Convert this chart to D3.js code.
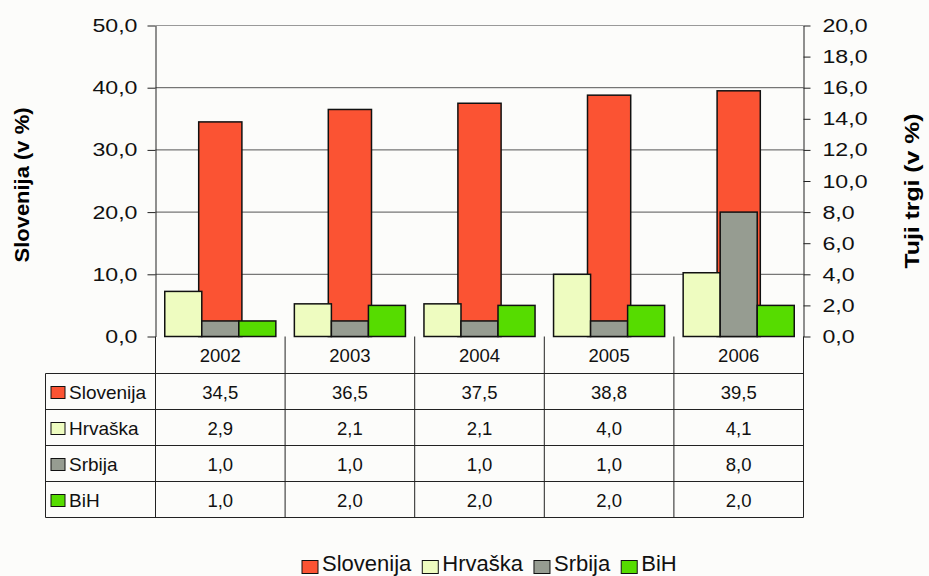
<!DOCTYPE html>
<html>
<head>
<meta charset="utf-8">
<script src="https://cdn.jsdelivr.net/npm/d3@7"></script>
<style>
  body { margin: 0; background: #fcfcfa; }
  svg { display: block; font-family: "Liberation Sans", Arial, sans-serif; }
</style>
</head>
<body>
<svg width="929" height="576"></svg>
<script>
// values
var years = ["2002", "2003", "2004", "2005", "2006"];
var slovenija = [34.5, 36.5, 37.5, 38.8, 39.5];
var hrvaska = [2.9, 2.1, 2.1, 4.0, 4.1];
var srbija = [1.0, 1.0, 1.0, 1.0, 8.0];
var bih = [1.0, 2.0, 2.0, 2.0, 2.0];
var seriesNames = ["Slovenija", "Hrvaška", "Srbija", "BiH"];
var leftTicks = [0, 10, 20, 30, 40, 50];
var rightTicks = [0, 2, 4, 6, 8, 10, 12, 14, 16, 18, 20];

var colors = {Slovenija: "#fb5333", "Hrvaška": "#eefcc0", Srbija: "#969c91", BiH: "#56dc00"};
var values = {Slovenija: slovenija, "Hrvaška": hrvaska, Srbija: srbija, BiH: bih};
var secondary = ["Hrvaška", "Srbija", "BiH"];

var svg = d3.select("svg"),
    plotL = 155.5, plotR = 803.5, plotT = 25.5, plotB = 336.5,
    tableBottom = 517.5, tableLeft = 45.5;

var fmt = function(v) { return d3.format(".1f")(v).replace(".", ","); };

var x0 = d3.scaleBand().domain(years).range([plotL, plotR]);
var xs = d3.scaleBand().domain(secondary).range([0, x0.bandwidth()]).paddingOuter(0.25);
var xSlo = d3.scaleBand().domain(["Slovenija"]).range([0, x0.bandwidth()]).paddingOuter(1);

var yL = d3.scaleLinear().domain([0, 50]).range([plotB, plotT]);
var yR = d3.scaleLinear().domain([0, 20]).range([plotB, plotT]);

// gridlines
svg.append("g").selectAll("line")
  .data(leftTicks.slice(1))
  .enter().append("line")
    .attr("x1", plotL).attr("x2", plotR)
    .attr("y1", function(d) { return yL(d); })
    .attr("y2", function(d) { return yL(d); })
    .attr("stroke", function(d) { return d === 50 ? "#999" : "#555"; })
    .attr("stroke-width", 1);

// Slovenija bars (left axis) go behind
svg.append("g").selectAll("rect")
  .data(years)
  .enter().append("rect")
    .attr("x", function(d) { return x0(d) + xSlo("Slovenija"); })
    .attr("width", xSlo.bandwidth())
    .attr("y", function(d, i) { return yL(slovenija[i]); })
    .attr("height", function(d, i) { return plotB - yL(slovenija[i]); })
    .attr("fill", colors.Slovenija)
    .attr("stroke", "#111")
    .attr("stroke-width", 1.5);

// other markets (right axis)
var grp = svg.append("g").selectAll("g")
  .data(years)
  .enter().append("g")
    .attr("transform", function(d) { return "translate(" + x0(d) + ",0)"; });

grp.selectAll("rect")
  .data(function(d, i) { return secondary.map(function(s) { return {s: s, v: values[s][i]}; }); })
  .enter().append("rect")
    .attr("x", function(d) { return xs(d.s); })
    .attr("width", xs.bandwidth())
    .attr("y", function(d) { return yR(d.v); })
    .attr("height", function(d) { return plotB - yR(d.v); })
    .attr("fill", function(d) { return colors[d.s]; })
    .attr("stroke", "#111")
    .attr("stroke-width", 1.5);

// axes
var sx = 1.22;
var axL = svg.append("g")
    .attr("transform", "translate(" + plotL + ",0)")
    .call(d3.axisLeft(yL).tickValues(leftTicks).tickFormat(fmt).tickSize(8).tickSizeOuter(0).tickPadding(10));
var axR = svg.append("g")
    .attr("transform", "translate(" + plotR + ",0)")
    .call(d3.axisRight(yR).tickValues(rightTicks).tickFormat(fmt).tickSize(7).tickSizeOuter(0).tickPadding(12));

[axL, axR].forEach(function(ax) {
  ax.select(".domain").attr("stroke", "#222");
  ax.selectAll(".tick line").attr("stroke", "#222");
  ax.selectAll(".tick text")
      .attr("font-size", 19)
      .attr("font-family", "Liberation Sans, Arial, sans-serif")
      .attr("fill", "#111")
      .attr("x", function() { return +d3.select(this).attr("x") / sx; })
      .attr("transform", "scale(" + sx + ",1)");
});

// axis titles
svg.append("text")
    .attr("transform", "translate(29,185) rotate(-90)")
    .attr("text-anchor", "middle")
    .attr("font-weight", "bold")
    .attr("font-size", 20)
    .attr("textLength", 155)
    .attr("lengthAdjust", "spacingAndGlyphs")
    .text("Slovenija (v %)");

svg.append("text")
    .attr("transform", "translate(919,191) rotate(-90)")
    .attr("text-anchor", "middle")
    .attr("font-weight", "bold")
    .attr("font-size", 20)
    .attr("textLength", 155)
    .attr("lengthAdjust", "spacingAndGlyphs")
    .text("Tuji trgi (v %)");

// data table
var rows = d3.scaleBand().domain(seriesNames).range([373.5, tableBottom]);
var table = svg.append("g").attr("stroke", "#222").attr("stroke-width", 1);

table.selectAll(".hline")
  .data(seriesNames)
  .enter().append("line")
    .attr("x1", tableLeft).attr("x2", plotR)
    .attr("y1", function(d) { return rows(d); })
    .attr("y2", function(d) { return rows(d); });
table.append("line")
    .attr("x1", tableLeft).attr("x2", plotR)
    .attr("y1", tableBottom).attr("y2", tableBottom);
table.append("line")
    .attr("x1", tableLeft).attr("x2", tableLeft)
    .attr("y1", rows("Slovenija")).attr("y2", tableBottom);
table.selectAll(".vline")
  .data(years.concat(["end"]))
  .enter().append("line")
    .attr("x1", function(d) { return d === "end" ? plotR : x0(d); })
    .attr("x2", function(d) { return d === "end" ? plotR : x0(d); })
    .attr("y1", plotB).attr("y2", tableBottom);

svg.append("g").selectAll("text")
  .data(years)
  .enter().append("text")
    .attr("x", function(d) { return x0(d) + x0.bandwidth() / 2; })
    .attr("y", (plotB + rows("Slovenija")) / 2 + 7)
    .attr("text-anchor", "middle")
    .attr("font-size", 18.5)
    .attr("fill", "#111")
    .text(function(d) { return d; });

var rowG = svg.append("g").selectAll("g")
  .data(seriesNames)
  .enter().append("g")
    .attr("transform", function(d) { return "translate(0," + (rows(d) + rows.bandwidth() / 2) + ")"; });

rowG.append("rect")
    .attr("x", 51).attr("y", -5)
    .attr("width", 14).attr("height", 12)
    .attr("fill", function(d) { return colors[d]; })
    .attr("stroke", "#111");

rowG.append("text")
    .attr("x", 69).attr("y", 7)
    .attr("font-size", 19)
    .attr("fill", "#111")
    .text(function(d) { return d; });

rowG.selectAll(".val")
  .data(function(s) { return values[s]; })
  .enter().append("text")
    .attr("x", function(d, i) { return x0(years[i]) + x0.bandwidth() / 2; })
    .attr("y", 7)
    .attr("text-anchor", "middle")
    .attr("font-size", 18.5)
    .attr("fill", "#111")
    .text(function(d) { return fmt(d); });

// legend
var legend = svg.append("g");
var lx = 302;
seriesNames.forEach(function(s) {
  legend.append("rect")
      .attr("x", lx).attr("y", 560.5)
      .attr("width", 16).attr("height", 13)
      .attr("fill", colors[s])
      .attr("stroke", "#111");
  var t = legend.append("text")
      .attr("x", lx + 20).attr("y", 571)
      .attr("font-size", 22)
      .attr("fill", "#111")
      .text(s);
  lx += 20 + t.node().getComputedTextLength() + 11;
});
</script>
</body>
</html>
